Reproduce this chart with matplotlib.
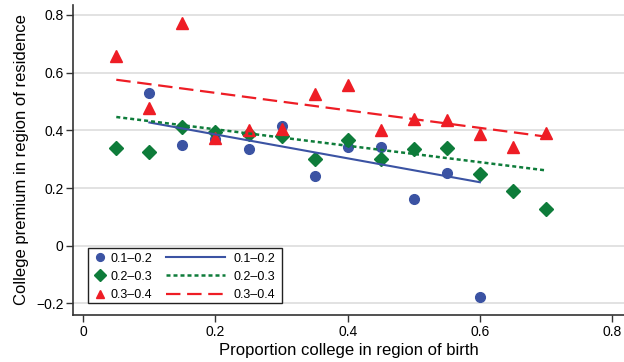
import matplotlib
matplotlib.use('Agg')
import matplotlib.pyplot as plt
from matplotlib.patches import Rectangle

plt.rcParams['font.family'] = ['Liberation Sans', 'DejaVu Sans']

# data
x_blue = [0.10, 0.15, 0.20, 0.25, 0.30, 0.35, 0.40, 0.45, 0.50, 0.55, 0.60]
y_blue = [0.529, 0.348, 0.369, 0.334, 0.414, 0.240, 0.341, 0.343, 0.163, 0.252, -0.177]

x_green = [0.05, 0.10, 0.15, 0.20, 0.25, 0.30, 0.35, 0.40, 0.45, 0.50, 0.55, 0.60, 0.65, 0.70]
y_green = [0.340, 0.325, 0.413, 0.394, 0.386, 0.380, 0.301, 0.365, 0.299, 0.334, 0.339, 0.247, 0.191, 0.128]

x_red = [0.05, 0.10, 0.15, 0.20, 0.25, 0.30, 0.35, 0.40, 0.45, 0.50, 0.55, 0.60, 0.65, 0.70]
y_red = [0.658, 0.477, 0.772, 0.374, 0.400, 0.406, 0.525, 0.557, 0.401, 0.438, 0.436, 0.388, 0.343, 0.392]

# fitted lines (endpoints)
fit_blue_x, fit_blue_y = [0.10, 0.60], [0.427, 0.220]
fit_green_x, fit_green_y = [0.05, 0.70], [0.446, 0.261]
fit_red_x, fit_red_y = [0.05, 0.70], [0.575, 0.378]

labels = ['0.1\u20130.2', '0.2\u20130.3', '0.3\u20130.4']

blue = '#3b53a3'
green = '#0e7c3a'
red = '#ee1d25'

fig = plt.figure(figsize=(6.24, 3.62), dpi=100)
ax = fig.add_axes([0.1175, 0.1298, 0.8825, 0.8564])

ax.grid(axis='y', color='#dddddd', linewidth=1.2)
ax.set_axisbelow(True)

h1, = ax.plot(x_blue, y_blue, 'o', color=blue, markersize=7, linestyle='none', label=labels[0])
h2, = ax.plot(x_green, y_green, 'D', color=green, markersize=7.5, linestyle='none', label=labels[1])
h3, = ax.plot(x_red, y_red, '^', color=red, markersize=8, linestyle='none', label=labels[2])

l1, = ax.plot(fit_blue_x, fit_blue_y, '-', color=blue, linewidth=1.5, label=labels[0])
l2, = ax.plot(fit_green_x, fit_green_y, color=green, linewidth=1.8, linestyle=(0, (1.6, 1.2)), label=labels[1])
l3, = ax.plot(fit_red_x, fit_red_y, color=red, linewidth=1.6, linestyle=(0, (6.5, 3)), label=labels[2])

ax.set_xlim(-0.015, 0.818)
ax.set_ylim(-0.24, 0.834)
ax.set_xticks([0, 0.2, 0.4, 0.6, 0.8])
ax.set_xticklabels(['0', '0.2', '0.4', '0.6', '0.8'])
ax.set_yticks([-0.2, 0, 0.2, 0.4, 0.6, 0.8])
ax.set_yticklabels(['\u22120.2', '0', '0.2', '0.4', '0.6', '0.8'])

for side in ['top', 'right']:
    ax.spines[side].set_visible(False)
for side in ['left', 'bottom']:
    ax.spines[side].set_color('#333333')
    ax.spines[side].set_linewidth(1.2)
ax.tick_params(axis='both', labelsize=10, length=5, width=1, color='#333333', direction='out', pad=2)

ax.set_xlabel('Proportion college in region of birth', fontsize=12, labelpad=3)
ax.set_ylabel('College premium in region of residence', fontsize=12, labelpad=5)

# legend: markers column + lines column inside one frame
frame = Rectangle((0.0267, 0.0387), 0.352, 0.177, transform=ax.transAxes,
                  facecolor='white', edgecolor='#222222', linewidth=1.0, zorder=4.8)
ax.add_patch(frame)

leg_kw = dict(loc='center left', fontsize=9, frameon=False, borderpad=0,
              borderaxespad=0, labelspacing=0.5)
leg1 = ax.legend(handles=[h1, h2, h3], bbox_to_anchor=(0.037, 0.1234),
                 handlelength=1.0, handletextpad=0.35, markerscale=0.8, **leg_kw)
leg1.set_zorder(5)
ax.add_artist(leg1)
leg2 = ax.legend(handles=[l1, l2, l3], bbox_to_anchor=(0.1683, 0.1234),
                 handlelength=4.7, handletextpad=0.7, **leg_kw)
leg2.set_zorder(5)

fig.savefig('out.png', dpi=100)
